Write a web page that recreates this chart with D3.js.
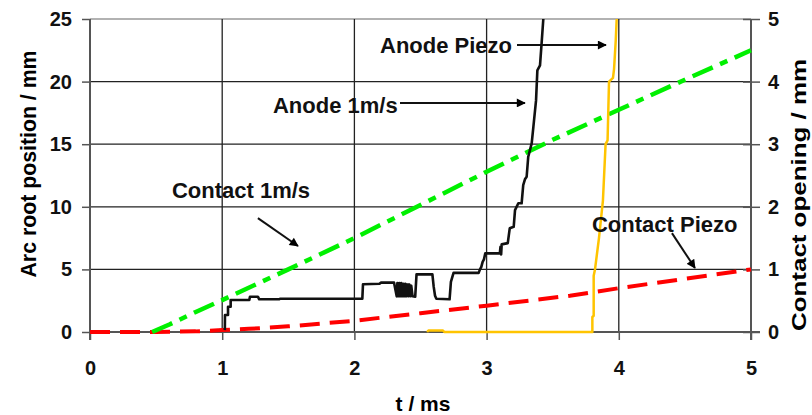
<!DOCTYPE html>
<html>
<head>
<meta charset="utf-8">
<script src="https://cdn.jsdelivr.net/npm/d3@7/dist/d3.min.js"></script>
<style>
  html, body { margin: 0; padding: 0; background: #fff; }
  svg { display: block; font-family: "Liberation Sans", Arial, sans-serif; font-weight: bold; }
</style>
</head>
<body>
<svg id="chart" width="812" height="415"></svg>
<script>
// Time axis (ms) and value axes
const tTicks = [0, 1, 2, 3, 4, 5];
const arcTicks = [0, 5, 10, 15, 20, 25];      // left axis, mm
const openTicks = [0, 1, 2, 3, 4, 5];         // right axis, mm

// Anode 1m/s : arc root position (mm) vs t (ms), left axis
const anode1T = [1.02, 1.021, 1.044, 1.044, 1.064, 1.064, 1.205, 1.21, 1.27, 1.28, 1.43, 1.44, 2.06, 2.065, 2.19, 2.2, 2.3, 2.32, 2.325, 2.335, 2.34, 2.35, 2.355, 2.365, 2.37, 2.38, 2.385, 2.395, 2.40, 2.41, 2.415, 2.425, 2.43, 2.44, 2.46, 2.47, 2.59, 2.6, 2.61, 2.62, 2.72, 2.73, 2.75, 2.94, 2.95, 2.96, 2.97, 2.98, 2.99, 3.1, 3.105, 3.11, 3.114, 3.16, 3.175, 3.205, 3.215, 3.24, 3.265, 3.277, 3.29, 3.303, 3.315, 3.341, 3.354, 3.374, 3.384, 3.404, 3.416, 3.429];
const anode1Y = [0.15, 1.36, 1.36, 2.02, 2.02, 2.56, 2.56, 2.82, 2.82, 2.61, 2.61, 2.66, 2.66, 3.81, 3.85, 3.94, 3.94, 2.85, 3.9, 2.85, 3.9, 2.85, 3.9, 2.85, 3.85, 2.85, 3.85, 2.85, 3.8, 2.85, 3.8, 2.85, 3.7, 2.85, 2.82, 4.6, 4.6, 3.6, 2.9, 2.65, 2.61, 4.0, 4.72, 4.72, 5.0, 5.2, 5.6, 5.8, 6.28, 6.28, 6.8, 6.2, 7.0, 7.1, 8.28, 8.4, 9.74, 10.28, 10.28, 11.74, 12.2, 12.4, 14.0, 15.07, 16.4, 18.5, 20.9, 21.3, 23.06, 25];

// Anode Piezo : arc root position (mm), left axis
const anodePzT = [2.55, 2.56, 2.67, 2.68, 3.80, 3.80, 3.81, 3.81, 3.82, 3.85, 3.88, 3.90, 3.915, 3.926, 3.956, 3.964, 3.977, 3.984];
const anodePzY = [0, 0.12, 0.12, 0, 0, 1.2, 1.3, 4.5, 5.0, 7.5, 10.5, 15.0, 15.3, 20.0, 20.3, 21.0, 23.3, 25];

// Contact 1m/s : contact opening (mm), right axis
const contact1T = [0.47, 0.6, 0.8, 1.0, 1.5, 2.0, 2.5, 3.0, 3.5, 4.0, 4.5, 5.0];
const contact1Y = [0, 0.12, 0.32, 0.51, 1.0, 1.5, 2.03, 2.56, 3.07, 3.55, 4.03, 4.5];

// Contact Piezo : contact opening (mm), right axis
const contactPzT = [0, 0.5, 0.8, 1.0, 1.2, 1.5, 2.0, 2.5, 3.0, 3.63, 4.0, 4.5, 5.0];
const contactPzY = [0, 0, 0.01, 0.03, 0.05, 0.09, 0.18, 0.30, 0.42, 0.58, 0.70, 0.85, 1.0];

const labels = {
  xTitle: "t / ms",
  yLeftTitle: "Arc root position / mm",
  yRightTitle: "Contact opening / mm",
  anodePiezo: "Anode Piezo",
  anode1: "Anode 1m/s",
  contact1: "Contact 1m/s",
  contactPiezo: "Contact Piezo"
};

const svg = d3.select("#chart");
const L = 90, R = 751, T = 19, B = 332;

const x = d3.scaleLinear().domain([0, 5]).range([L, R]);
const yL = d3.scaleLinear().domain([0, 25]).range([B, T]);
const yR = d3.scaleLinear().domain([0, 5]).range([B, T]);

const defs = svg.append("defs");
defs.append("clipPath").attr("id", "plot")
  .append("rect").attr("x", L).attr("y", T - 1).attr("width", R - L + 2).attr("height", B - T + 5);

const marker = defs.append("marker")
  .attr("id", "arrow").attr("viewBox", "0 0 10 10")
  .attr("refX", 9).attr("refY", 5)
  .attr("markerWidth", 5).attr("markerHeight", 4.5)
  .attr("markerUnits", "strokeWidth")
  .attr("orient", "auto");
marker.append("path").attr("d", "M0,0 L10,5 L0,10 Z").attr("fill", "#000");

// Grid
const grid = svg.append("g");
grid.selectAll("line.h").data(arcTicks.filter(v => v > 0)).join("line")
  .attr("x1", L).attr("x2", R)
  .attr("y1", d => yL(d)).attr("y2", d => yL(d))
  .attr("stroke", d => d === 25 ? "#999" : "#222").attr("stroke-width", 1.3);
grid.selectAll("line.v").data(tTicks.filter(v => v > 0 && v < 5)).join("line")
  .attr("y1", T).attr("y2", B)
  .attr("x1", d => x(d)).attr("x2", d => x(d))
  .attr("stroke", "#222").attr("stroke-width", 1.3);

// Axes
const axisColor = "#555";
function styleAxis(g) {
  g.select(".domain").attr("stroke", axisColor).attr("stroke-width", 2);
  g.selectAll(".tick line").attr("stroke", axisColor).attr("stroke-width", 1.5);
  g.selectAll(".tick text").attr("fill", "#111")
    .style("font-size", "20px").style("font-weight", "bold")
    .style("font-family", "'Liberation Sans', Arial, sans-serif");
}

const gx = svg.append("g").attr("transform", `translate(0,${B})`)
  .call(d3.axisBottom(x).tickValues(tTicks).tickFormat(d3.format("d"))
    .tickSize(8).tickSizeOuter(0).tickPadding(21));
styleAxis(gx);
gx.select(".domain").attr("d", `M${L},0H${R + 9}`);

const gl = svg.append("g").attr("transform", `translate(${L},0)`)
  .call(d3.axisLeft(yL).tickValues(arcTicks).tickFormat(d3.format("d"))
    .tickSize(8).tickSizeOuter(0).tickPadding(10));
styleAxis(gl);
gl.select(".domain").attr("d", `M0,${T}V${B + 8}`);

const gr = svg.append("g").attr("transform", `translate(${R},0)`)
  .call(d3.axisRight(yR).tickValues(openTicks).tickFormat(d3.format("d"))
    .tickSize(9).tickSizeOuter(0).tickPadding(8));
styleAxis(gr);
gr.selectAll(".tick line").attr("x1", -8);
gr.select(".domain").attr("d", `M0,${T}V${B + 8}`);

// Series
const plot = svg.append("g").attr("clip-path", "url(#plot)");
const lineL = d3.line().x(d => x(d[0])).y(d => yL(d[1]));
const lineR = d3.line().x(d => x(d[0])).y(d => yR(d[1]));
const zip = (a, b) => a.map((v, i) => [v, b[i]]);

plot.append("path").datum(zip(contactPzT, contactPzY))
  .attr("d", lineR).attr("fill", "none")
  .attr("stroke", "#ff0000").attr("stroke-width", 4)
  .attr("stroke-dasharray", "20,10");

plot.append("path").datum(zip(contact1T, contact1Y))
  .attr("d", lineR).attr("fill", "none")
  .attr("stroke", "#00f000").attr("stroke-width", 4.5)
  .attr("stroke-dasharray", "22,8,8,8");

plot.append("path").datum(zip(anodePzT, anodePzY))
  .attr("d", lineL).attr("fill", "none")
  .attr("stroke", "#ffc400").attr("stroke-width", 2.5)
  .attr("stroke-linejoin", "round");

plot.append("path").datum(zip(anode1T, anode1Y))
  .attr("d", lineL).attr("fill", "none")
  .attr("stroke", "#111").attr("stroke-width", 2.6)
  .attr("stroke-linejoin", "round");

// Annotations
const ann = svg.append("g").style("font-size", "22px").attr("fill", "#111");
function label(text, tx, ty) {
  ann.append("text").attr("x", tx).attr("y", ty).attr("dy", "0.36em").text(text);
}
function arrow(x1, y1, x2, y2) {
  ann.append("line").attr("x1", x1).attr("y1", y1).attr("x2", x2).attr("y2", y2)
    .attr("stroke", "#111").attr("stroke-width", 2).attr("marker-end", "url(#arrow)");
}
label(labels.anodePiezo, x(2.194), yL(22.92));
arrow(x(3.23), yL(22.92), x(3.903), yL(22.92));
label(labels.anode1, x(1.384), yL(18.13));
arrow(x(2.345), yL(18.3), x(3.29), yL(18.3));
label(labels.contact1, x(0.62), yL(11.34));
arrow(x(1.27), yL(9.1), x(1.573), yL(6.87));
label(labels.contactPiezo, x(3.797), yL(8.63));
arrow(x(4.402), yL(7.9), x(4.576), yL(5.11));

// Axis titles
svg.append("text").attr("x", 423).attr("y", 403).attr("dy", "0.36em")
  .attr("text-anchor", "middle").style("font-size", "21px").text(labels.xTitle);
svg.append("text").attr("transform", "translate(28,164) rotate(-90)")
  .attr("text-anchor", "middle").attr("dy", "0.36em").style("font-size", "22px")
  .attr("textLength", 227).attr("lengthAdjust", "spacingAndGlyphs")
  .text(labels.yLeftTitle);
svg.append("text").attr("transform", "translate(799,195) rotate(-90)")
  .attr("text-anchor", "middle").attr("dy", "0.36em").style("font-size", "20px")
  .attr("textLength", 272).attr("lengthAdjust", "spacingAndGlyphs")
  .text(labels.yRightTitle);
</script>
</body>
</html>
